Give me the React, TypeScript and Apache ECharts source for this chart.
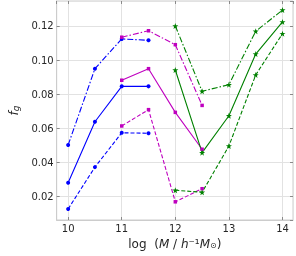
import React, { useEffect, useRef } from "react";
import * as echarts from "echarts";

const xTicks = [10, 11, 12, 13, 14];
const yTicks = [0.02, 0.04, 0.06, 0.08, 0.1, 0.12];

const massBlue = [10, 10.5, 11, 11.5];
const massMagenta = [11, 11.5, 12, 12.5];
const massGreen = [12, 12.5, 13, 13.5, 14];

const blueMid = [0.0278, 0.0637, 0.0845, 0.0845];
const blueHigh = [0.05, 0.0949, 0.1124, 0.1116];
const blueLow = [0.0124, 0.037, 0.0572, 0.0569];

const magentaMid = [0.0881, 0.0949, 0.0692, 0.0475];
const magentaHigh = [0.1134, 0.1172, 0.109, 0.0733];
const magentaLow = [0.0612, 0.0708, 0.0166, 0.0243];

const greenMid = [0.0941, 0.0455, 0.0672, 0.1035, 0.1224];
const greenHigh = [0.12, 0.0816, 0.0855, 0.1169, 0.1294];
const greenLow = [0.0234, 0.0222, 0.0494, 0.0912, 0.1155];

const STAR =
  "path://M0,-10 L2.35,-3.24 L9.51,-3.09 L3.8,1.24 L5.88,8.09 L0,4 L-5.88,8.09 L-3.8,1.24 L-9.51,-3.09 L-2.35,-3.24 Z";

const DASH: number[] = [4, 2];
const DASHDOT: number[] = [6, 2, 1.5, 2];

function pairs(xs: number[], ys: number[]) {
  return xs.map((x, i) => [x, ys[i]]);
}

function mk(
  xs: number[],
  ys: number[],
  color: string,
  type: any,
  symbol: string,
  size: number
) {
  return {
    type: "line",
    data: pairs(xs, ys),
    xAxisIndex: 0,
    yAxisIndex: 0,
    symbol,
    symbolSize: size,
    showSymbol: true,
    lineStyle: { color, width: 1.1, type },
    itemStyle: { color, borderWidth: 0 },
    emphasis: { disabled: true },
  };
}

export default function App() {
  const ref = useRef<HTMLDivElement>(null);
  useEffect(() => {
    if (!ref.current) return;
    const chart = echarts.init(ref.current, undefined, { renderer: "svg" });
    const xMin = 9.786;
    const xMax = 14.196;
    const yMin = 0.0059;
    const yMax = 0.1347;
    const textColor = "#262626";
    const frame = "#cccccc";
    const grid = "#e2e2e2";
    const tickColor = "#8a8a8a";
    chart.setOption({
      animation: false,
      grid: {
        left: 46,
        right: 3,
        top: 1,
        bottom: 36,
        show: true,
        borderColor: frame,
        borderWidth: 1,
        backgroundColor: "transparent",
      },
      xAxis: [
        {
          type: "value",
          min: xMin,
          max: xMax,
          minInterval: 1,
          maxInterval: 1,
          splitNumber: 4,
          axisLine: { show: true, lineStyle: { color: frame } },
          axisTick: { show: true, inside: true, length: 3, lineStyle: { color: tickColor } },
          splitLine: { show: true, lineStyle: { color: grid, width: 1 } },
          axisLabel: {
            show: true,
            showMinLabel: false,
            showMaxLabel: false,
            margin: 3,
            color: textColor,
            fontFamily: "DejaVu Sans",
            fontSize: 10,
            formatter: (v: number) =>
              xTicks.some((t) => Math.abs(t - v) < 1e-6) ? String(Math.round(v)) : "",
          },
          name: "{n|log  (}{i|M}{n| / }{i|h}{n|⁻¹}{i|M}{sub|⊙}{n|)}",
          nameLocation: "middle",
          nameGap: 13,
          nameTextStyle: {
            color: textColor,
            fontFamily: "DejaVu Sans",
            fontSize: 12,
            rich: {
              n: { fontFamily: "DejaVu Sans", fontSize: 12, color: textColor },
              i: { fontFamily: "DejaVu Sans", fontSize: 12, fontStyle: "italic", color: textColor },
              sub: { fontFamily: "DejaVu Sans", fontSize: 8, color: textColor, verticalAlign: "bottom", padding: [4, 0, 0, 0] },
            },
          },
        },
        {
          type: "value",
          position: "top",
          min: xMin,
          max: xMax,
          minInterval: 1,
          maxInterval: 1,
          splitNumber: 4,
          axisLine: { show: false },
          axisTick: { show: true, inside: true, length: 3, lineStyle: { color: tickColor } },
          splitLine: { show: false },
          axisLabel: { show: false },
        },
      ],
      yAxis: [
        {
          type: "value",
          min: yMin,
          max: yMax,
          minInterval: 0.02,
          maxInterval: 0.02,
          splitNumber: 6,
          axisLine: { show: true, lineStyle: { color: frame } },
          axisTick: { show: true, inside: true, length: 3, lineStyle: { color: tickColor } },
          splitLine: { show: true, lineStyle: { color: grid, width: 1 } },
          axisLabel: {
            show: true,
            showMinLabel: false,
            showMaxLabel: false,
            margin: 3,
            color: textColor,
            fontFamily: "DejaVu Sans",
            fontSize: 10,
            formatter: (v: number) =>
              yTicks.some((t) => Math.abs(t - v) < 1e-6) ? v.toFixed(2) : "",
          },
          name: "{i|f}{sub|g}",
          nameLocation: "middle",
          nameRotate: 90,
          nameGap: 30,
          nameTextStyle: {
            color: textColor,
            fontFamily: "DejaVu Sans",
            fontSize: 12,
            rich: {
              i: { fontFamily: "DejaVu Sans", fontSize: 12, fontStyle: "italic", color: textColor },
              sub: { fontFamily: "DejaVu Sans", fontSize: 9, fontStyle: "italic", color: textColor, verticalAlign: "bottom", padding: [4, 0, 0, 0] },
            },
          },
        },
        {
          type: "value",
          position: "right",
          min: yMin,
          max: yMax,
          minInterval: 0.02,
          maxInterval: 0.02,
          splitNumber: 6,
          axisLine: { show: false },
          axisTick: { show: true, inside: true, length: 3, lineStyle: { color: tickColor } },
          splitLine: { show: false },
          axisLabel: { show: false },
        },
      ],
      series: [
        mk(massBlue, blueMid, "#0000ff", "solid", "circle", 4),
        mk(massBlue, blueHigh, "#0000ff", DASHDOT, "circle", 4),
        mk(massBlue, blueLow, "#0000ff", DASH, "circle", 4),
        mk(massMagenta, magentaMid, "#bf00bf", "solid", "rect", 3.5),
        mk(massMagenta, magentaHigh, "#bf00bf", DASHDOT, "rect", 3.5),
        mk(massMagenta, magentaLow, "#bf00bf", DASH, "rect", 3.5),
        mk(massGreen, greenMid, "#008000", "solid", STAR, 6),
        mk(massGreen, greenHigh, "#008000", DASHDOT, STAR, 6),
        mk(massGreen, greenLow, "#008000", DASH, STAR, 6),
      ],
    });
    return () => chart.dispose();
  }, []);
  return (
    <div
      ref={ref}
      style={{ position: "fixed", left: 0, top: 0, width: 296, height: 256 }}
    />
  );
}
